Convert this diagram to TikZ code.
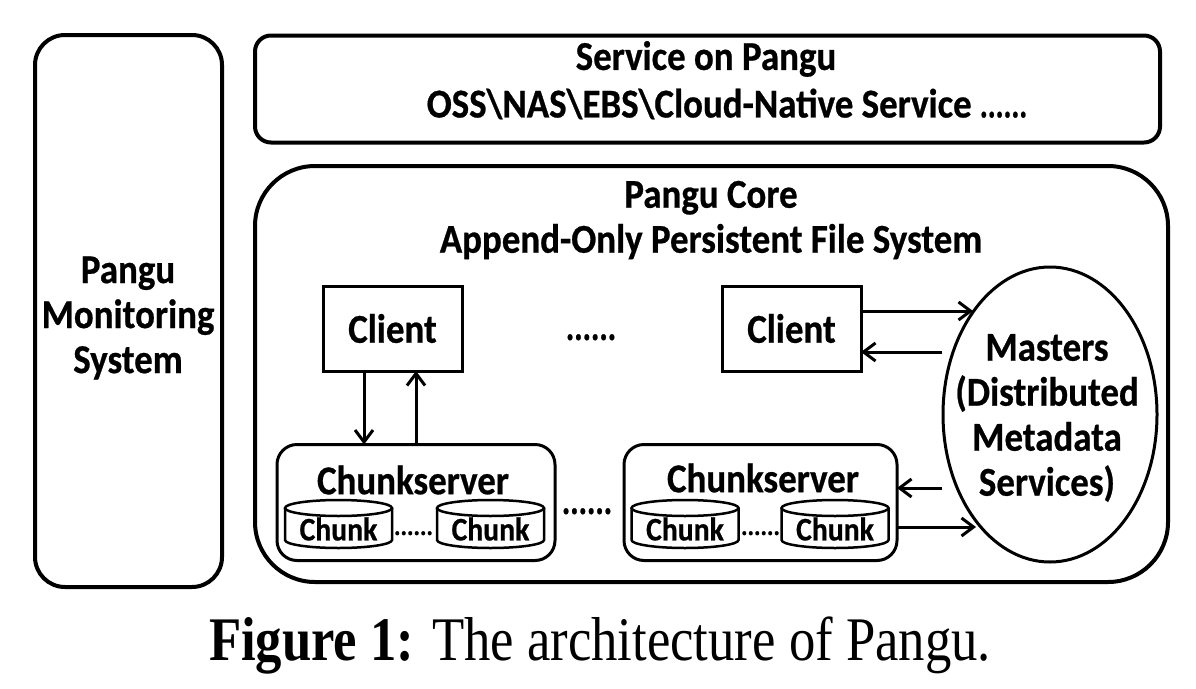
\documentclass[tikz,border=0pt]{standalone}
\usepackage{fontspec}
\setmainfont{Carlito}[FakeStretch=0.9, BoldFeatures={FakeBold=0.6}]
\newfontfamily\capfont{Liberation Serif}
\usetikzlibrary{arrows.meta,shapes.geometric}
\begin{document}
\begin{tikzpicture}[x=1pt,y=-1pt,
  outerbox/.style={draw, line width=4pt, inner sep=0pt, outer sep=0pt},
  innerbox/.style={draw, line width=3pt, inner sep=0pt, outer sep=0pt},
  txt/.style={font=\fontsize{41}{45}\selectfont\bfseries, align=center, inner sep=0pt},
  chunktxt/.style={font=\fontsize{33}{36}\selectfont\bfseries, inner sep=0pt},
  dots/.style={font=\fontsize{41}{45}\selectfont\bfseries, inner sep=0pt, anchor=base},
  smalldots/.style={font=\fontsize{27}{30}\selectfont\bfseries, inner sep=0pt, anchor=base},
  chunkbox/.style={minimum width=107pt, minimum height=48pt, inner sep=0pt, outer sep=0pt},
  cyl/.style={line width=2.5pt},
  arr/.style={line width=3pt, -{Straight Barb[length=12pt,width=18pt,line width=3pt]}},
  capt/.style={font=\capfont\fontsize{62}{62}\selectfont, inner sep=0pt, anchor=base}
]
\useasboundingbox (0,0) rectangle (1196,688);

% outer frames
\node[outerbox, rounded corners=30pt, minimum width=187pt, minimum height=552pt] (mon) at (128.5,311) {};
\node[txt] (montxt) at (128,318) {Pangu\\Monitoring\\System};

\node[outerbox, rounded corners=16pt, minimum width=905pt, minimum height=107pt] (svc) at (707.5,89) {};
\node[txt] (svctxt1) at (706,59) {Service on Pangu};
\node[txt] (svctxt2) at (727,104) {OSS\textbackslash NAS\textbackslash EBS\textbackslash Cloud-Native Service \scalebox{0.8}[1]{......}};

\node[outerbox, rounded corners=60pt, minimum width=913pt, minimum height=416pt] (core) at (711.5,374) {};
\node[txt] (coretxt) at (711,220) {Pangu Core\\Append-Only Persistent File System};

% clients
\node[innerbox, minimum width=139pt, minimum height=85pt, font=\fontsize{41}{45}\selectfont\bfseries] (cl1) at (392.5,328.5) {Client};
\node[innerbox, minimum width=139pt, minimum height=85pt, font=\fontsize{41}{45}\selectfont\bfseries] (cl2) at (791.5,328.5) {Client};
\node[dots] (cdots) at (591,340) {\scalebox{0.85}[1]{......}};

% masters
\node[draw, ellipse, line width=3pt, minimum width=214pt, minimum height=295pt, inner sep=0pt, outer sep=0pt] (m) at (1050,414.5) {};
\node[txt] (mtxt) at (1047,418) {Masters\\(Distributed\\Metadata\\Services)};

% chunkservers
\node[innerbox, rounded corners=20pt, minimum width=278pt, minimum height=116pt] (cs1) at (416,502.5) {};
\node[txt] (cs1txt) at (413,480) {Chunkserver};
\node[innerbox, rounded corners=20pt, minimum width=273pt, minimum height=116pt] (cs2) at (760.5,502.5) {};
\node[txt] (cs2txt) at (763,478) {Chunkserver};
\node[dots] (csdots) at (587,514) {\scalebox{0.85}[1]{......}};

% chunks
\node[chunkbox] (ch1) at (338.5,524) {};
\node[chunkbox] (ch2) at (490.5,524) {};
\node[chunkbox] (ch3) at (685,524) {};
\node[chunkbox] (ch4) at (835,524) {};
\foreach \n in {ch1,ch2,ch3,ch4}{
  \draw[cyl] ([yshift=-8pt]\n.north west) -- ([yshift=8pt]\n.south west)
     arc[start angle=180,end angle=360,x radius=53.5pt,y radius=8pt]
     -- ([yshift=-8pt]\n.north east);
  \draw[cyl] ([yshift=-8pt]\n.north) ellipse[x radius=53.5pt,y radius=8pt];
  \node[chunktxt] (\n t) at ([yshift=-5pt]\n.center) {Chunk};
}
\node[smalldots] (chdots1) at (413.5,535) {......};
\node[smalldots] (chdots2) at (760.5,535) {......};

% arrows
\draw[arr] ([xshift=-28.5pt]cl1.south) -- ([xshift=-28.5pt]cl1.south |- cs1.north);
\draw[arr] ([xshift=23.5pt]cl1.south |- cs1.north) -- ([xshift=23.5pt]cl1.south);
\coordinate (mc1) at (973,311);
\coordinate (mc2) at (942,352);
\coordinate (mc3) at (942,488);
\coordinate (mc4) at (976,527);
\draw[arr] (cl2.east |- mc1) -- (mc1);
\draw[arr] (mc2) -- (cl2.east |- mc2);
\draw[arr] (mc3) -- (cs2.east |- mc3);
\draw[arr] (cs2.east |- mc4) -- (mc4);

% caption
\node[capt] (cap) at (600,660) {\scalebox{0.85}[1]{\textbf{Figure 1:} The architecture of Pangu.}};
\end{tikzpicture}
\end{document}
